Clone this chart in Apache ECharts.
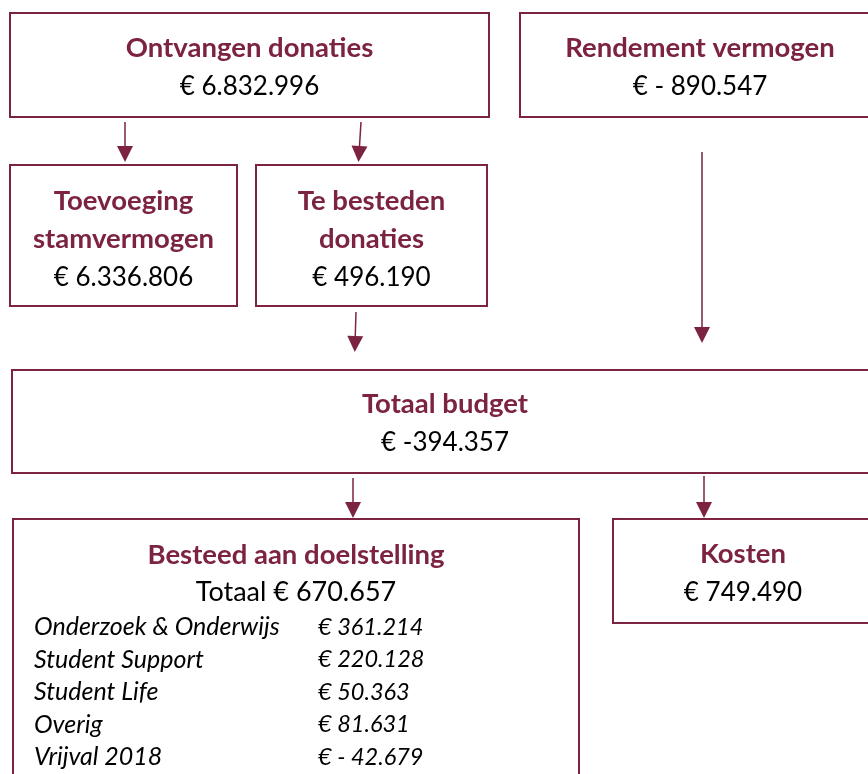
<!DOCTYPE html>
<html>
<head>
<meta charset="UTF-8">
<title>Budget</title>
<style>
  * { margin: 0; padding: 0; }
  body { background: #fff; }
  #chart { width: 868px; height: 774px; }
</style>
<script src="https://cdn.jsdelivr.net/npm/echarts@6/dist/echarts.min.js"></script>
</head>
<body>
<div id="chart"></div>
<script>
// data
const boxTitles = ['Ontvangen donaties', 'Rendement vermogen', 'Toevoeging\nstamvermogen', 'Te besteden\ndonaties', 'Totaal budget', 'Besteed aan doelstelling', 'Kosten']
const boxAmounts = ['€ 6.832.996', '€ - 890.547', '€ 6.336.806', '€ 496.190', '€ -394.357', 'Totaal € 670.657', '€ 749.490']
const goalNames = ['Onderzoek & Onderwijs', 'Student Support', 'Student Life', 'Overig', 'Vrijval 2018']
const goalAmounts = ['€ 361.214', '€ 220.128', '€ 50.363', '€ 81.631', '€ - 42.679']
// welke box stroomt naar welke box
const flows = [[0, 2], [0, 3], [3, 4], [1, 4], [4, 5], [4, 6]]

// layout: box rechthoeken [x0, y0, x1, y1] en label verschuiving
const boxRects = [
  [10, 13, 489, 117],
  [520, 13, 880, 117],
  [10, 165, 237, 306],
  [256, 165, 487, 306],
  [12, 370, 878, 473],
  [13, 519, 579, 791],
  [613, 519, 873, 623]
]
const labelDy = [2, 2, 4, 4, 2, 0, 2]
// pijlen: [x start, y start, x punt, y punt]
const arrowPaths = [
  [125, 122, 125, 162],
  [361, 122, 359, 162],
  [356, 312, 355, 352],
  [702, 152, 702, 343],
  [353, 478, 353, 518],
  [704, 476, 704, 518]
]
const headSize = 16

const maroon = '#7b2341'
const font = 'Lato, "Open Sans", sans-serif'

const rich = {
  t: { fontFamily: font, fontWeight: 'bold', fontSize: 27.5, fill: maroon, lineHeight: 38.5 },
  v: { fontFamily: font, fontSize: 26, fill: '#000', lineHeight: 38.5 },
  bt: { fontFamily: font, fontWeight: 'bold', fontSize: 27.5, fill: maroon, lineHeight: 37, width: 566, align: 'center' },
  bv: { fontFamily: font, fontSize: 27, fill: '#000', lineHeight: 37, width: 566, align: 'center' },
  pad: { fontFamily: font, fontSize: 23, width: 21, lineHeight: 32.5, align: 'left' },
  lab: { fontFamily: font, fontStyle: 'italic', fontSize: 25, fill: '#000', width: 284, lineHeight: 32.5, align: 'left' },
  val: { fontFamily: font, fontStyle: 'italic', fontSize: 23.5, fill: '#000', width: 261, lineHeight: 32.5, align: 'left' }
}

const boxLabel = (i) => {
  if (i === 5) {
    const rows = goalNames.map((n, k) => `{pad| }{lab|${n}}{val|${goalAmounts[k]}}`)
    return [`{bt|${boxTitles[i]}}`, `{bv|${boxAmounts[i]}}`].concat(rows).join('\n')
  }
  const t = boxTitles[i].split('\n').map(s => `{t|${s}}`).join('\n')
  return `${t}\n{v|${boxAmounts[i]}}`
}

// boxen via custom series
const boxData = boxRects.map((r, i) => ({ name: boxTitles[i], value: r }))

const renderBox = (params, api) => {
  const i = params.dataIndex
  const p0 = api.coord([api.value(0), api.value(1)])
  const p1 = api.coord([api.value(2), api.value(3)])
  return {
    type: 'rect',
    shape: { x: p0[0], y: p0[1], width: p1[0] - p0[0], height: p1[1] - p0[1] },
    style: { fill: '#fff', stroke: maroon, lineWidth: 2 },
    textContent: {
      type: 'text',
      style: { text: boxLabel(i), rich: rich, fontFamily: font, align: 'center', verticalAlign: 'middle' }
    },
    textConfig: { position: 'inside', offset: [0, labelDy[i]] }
  }
}

// pijlen via graph met onzichtbare ankerpunten
const nodes = []
const links = []
flows.forEach((f, k) => {
  const p = arrowPaths[k]
  // driehoek staat gecentreerd op het eindpunt, dus half terug
  nodes.push({ name: 'from' + k, value: [p[0], p[1]] })
  nodes.push({ name: 'to' + k, value: [p[2], p[3] - headSize / 2] })
  links.push({ source: 'from' + k, target: 'to' + k })
})

const chart = echarts.init(document.getElementById('chart'))
chart.setOption({
  animation: false,
  backgroundColor: '#fff',
  grid: { left: 0, right: 0, top: 0, bottom: 0 },
  xAxis: { type: 'value', min: 0, max: 868, show: false },
  yAxis: { type: 'value', min: 0, max: 774, inverse: true, show: false },
  series: [
    {
      type: 'custom',
      coordinateSystem: 'cartesian2d',
      silent: true,
      clip: false,
      renderItem: renderBox,
      data: boxData
    },
    {
      type: 'graph',
      coordinateSystem: 'cartesian2d',
      layout: 'none',
      silent: true,
      emphasis: { disabled: true },
      symbol: 'none',
      symbolSize: 0,
      label: { show: false },
      edgeSymbol: ['none', 'triangle'],
      edgeSymbolSize: [0, headSize],
      lineStyle: { color: maroon, width: 1.5, opacity: 1, curveness: 0 },
      data: nodes,
      links: links
    }
  ]
})
</script>
</body>
</html>
